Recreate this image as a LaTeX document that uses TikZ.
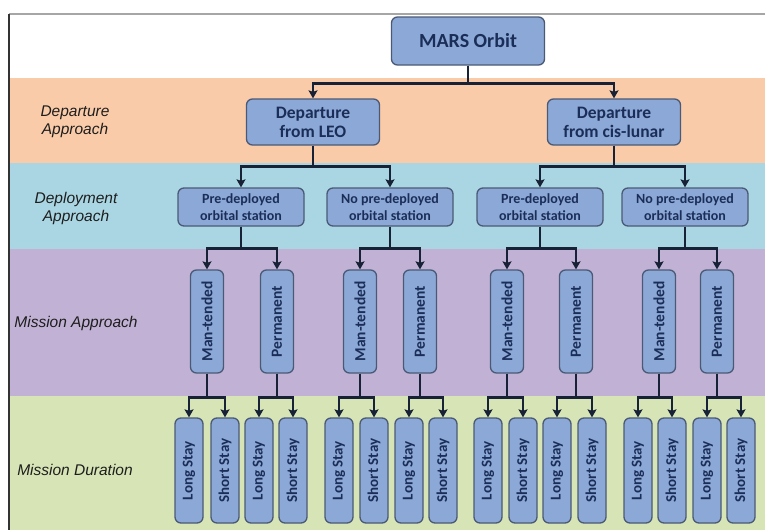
\documentclass[tikz,border=0pt]{standalone}
\usepackage{fontspec}
\setmainfont{Carlito}
\newfontfamily\labfont{Liberation Sans}
\usetikzlibrary{arrows.meta}

\definecolor{bandpeach}{RGB}{250,203,168}
\definecolor{bandblue}{RGB}{170,214,227}
\definecolor{bandpurple}{RGB}{193,178,213}
\definecolor{bandgreen}{RGB}{215,228,181}
\definecolor{boxfill}{RGB}{140,168,214}
\definecolor{boxline}{RGB}{74,90,118}
\definecolor{boxtext}{RGB}{26,46,88}
\definecolor{connline}{RGB}{24,34,54}
\definecolor{labtext}{RGB}{30,30,30}

\tikzset{
  box/.style={draw=boxline, line width=1.3pt, fill=boxfill, rounded corners=6pt,
    text=boxtext, font=\bfseries, align=center, inner sep=0pt},
  toplevel/.style={box, minimum width=153pt, minimum height=48pt,
    font=\fontsize{20}{22}\selectfont\bfseries},
  deplevel/.style={box, minimum width=133pt, minimum height=46pt,
    font=\fontsize{17.5}{19}\selectfont\bfseries},
  stationlevel/.style={box, minimum width=126pt, minimum height=38pt,
    font=\fontsize{14}{17}\selectfont\bfseries},
  missionlevel/.style={box, minimum width=33pt, minimum height=103pt,
    font=\fontsize{15.5}{17}\selectfont\bfseries},
  staylevel/.style={box, minimum width=28pt, minimum height=105pt,
    font=\fontsize{15}{17}\selectfont\bfseries},
  rowlabel/.style={text=labtext, align=center,
    font=\labfont\itshape\fontsize{15.5}{18}\selectfont},
  conn/.style={draw=connline, line width=2.8pt,
    -{Stealth[length=8pt,width=9pt,inset=1.5pt]}},
}

\newcommand{\vlab}[1]{\rotatebox{90}{#1}}

\begin{document}
\begin{tikzpicture}[x=1pt,y=-1pt]
  \useasboundingbox (0,0) rectangle (765,530);
  \fill[white] (0,0) rectangle (765,530);

  % horizontal bands
  \fill[bandpeach]  (9,78)  rectangle (765,163);
  \fill[bandblue]   (9,163) rectangle (765,249);
  \fill[bandpurple] (9,249) rectangle (765,396);
  \fill[bandgreen]  (9,396) rectangle (765,530);
  \draw[gray!70, line width=1.6pt] (9,14) -- (765,14);
  \draw[black!80, line width=1.2pt] (9,14) -- (9,530);

  % row labels
  \node[rowlabel] (labdep)  at (75,122) {Departure\\Approach};
  \node[rowlabel] (labdpl)  at (76,208) {Deployment\\Approach};
  \node[rowlabel] (labmis)  at (76,323) {Mission Approach};
  \node[rowlabel] (labdur)  at (75,470) {Mission Duration};

  % tree nodes
  \node[toplevel] (mars) at (468,41) {MARS Orbit};

  \node[deplevel] (leo) at (313,122) {Departure\\from LEO};
  \node[deplevel] (cis) at (614,122) {Departure\\from cis-lunar};

  \node[stationlevel] (s1) at (241,207) {Pre-deployed\\orbital station};
  \node[stationlevel] (s2) at (390,207) {No pre-deployed\\orbital station};
  \node[stationlevel] (s3) at (540,207) {Pre-deployed\\orbital station};
  \node[stationlevel] (s4) at (685,207) {No pre-deployed\\orbital station};

  \foreach \n/\x/\t in {m1/207/Man-tended, m2/277/Permanent,
                        m3/360/Man-tended, m4/420/Permanent,
                        m5/507/Man-tended, m6/576/Permanent,
                        m7/659/Man-tended, m8/717/Permanent}
    \node[missionlevel] (\n) at (\x,321.5) {\vlab{\t}};

  \foreach \n/\x/\t in {d1/189/Long Stay,  d2/225/Short Stay,
                        d3/259/Long Stay,  d4/293/Short Stay,
                        d5/339/Long Stay,  d6/374/Short Stay,
                        d7/409/Long Stay,  d8/443/Short Stay,
                        d9/488/Long Stay,  d10/523/Short Stay,
                        d11/557/Long Stay, d12/592/Short Stay,
                        d13/638/Long Stay, d14/672/Short Stay,
                        d15/707/Long Stay, d16/741/Short Stay}
    \node[staylevel] (\n) at (\x,470.5) {\vlab{\t}};

  % connectors
  \foreach \c in {leo,cis}
    \draw[conn] (mars.south) -- ++(0,18) -| (\c.north);
  \foreach \c in {s1,s2}
    \draw[conn] (leo.south) -- ++(0,21) -| (\c.north);
  \foreach \c in {s3,s4}
    \draw[conn] (cis.south) -- ++(0,21) -| (\c.north);
  \foreach \p/\a/\b in {s1/m1/m2, s2/m3/m4, s3/m5/m6, s4/m7/m8} {
    \draw[conn] (\p.south) -- ++(0,22) -| (\a.north);
    \draw[conn] (\p.south) -- ++(0,22) -| (\b.north);
  }
  \foreach \p/\a/\b in {m1/d1/d2, m2/d3/d4, m3/d5/d6, m4/d7/d8,
                        m5/d9/d10, m6/d11/d12, m7/d13/d14, m8/d15/d16} {
    \draw[conn] (\p.south) -- ++(0,24) -| (\a.north);
    \draw[conn] (\p.south) -- ++(0,24) -| (\b.north);
  }
\end{tikzpicture}
\end{document}
